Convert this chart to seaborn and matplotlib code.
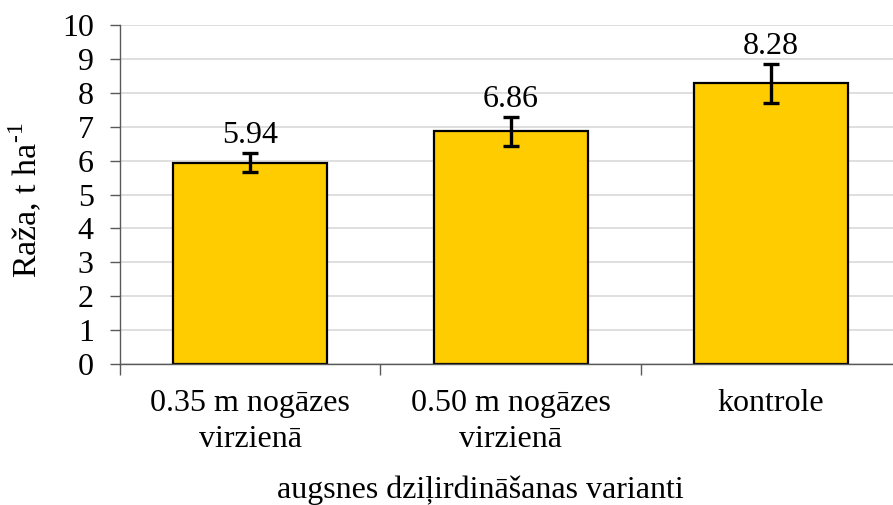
"""
Raža pēc augsnes dziļirdināšanas variantiem: stabiņi ar kļūdu joslām.
"""

import matplotlib
matplotlib.use("Agg")
import matplotlib.pyplot as plt
import pandas as pd
import seaborn as sns

# dati nolasīti no attēla
varianti = ["0.35 m nogāzes\nvirzienā", "0.50 m nogāzes\nvirzienā", "kontrole"]
raza = [5.94, 6.86, 8.28]
kludas = [0.28, 0.44, 0.58]
y_ticks = list(range(0, 11))

sns.set_style("white")
plt.rcParams["font.family"] = ["Liberation Serif", "DejaVu Serif"]
plt.rcParams["mathtext.fontset"] = "custom"
plt.rcParams["mathtext.rm"] = "Liberation Serif"
plt.rcParams["text.color"] = "black"
plt.rcParams["xtick.labelcolor"] = "black"
plt.rcParams["ytick.labelcolor"] = "black"
plt.rcParams["axes.labelcolor"] = "black"

FS = 23

df = pd.DataFrame({"variants": varianti, "raza": raza})

fig = plt.figure(figsize=(8.93, 5.05), dpi=100)
ax = fig.add_axes([0.1344, 0.279, 0.875, 0.6715])

sns.barplot(data=df, x="variants", y="raza", color="#FFCC00", saturation=1,
            edgecolor="black", linewidth=1.6, width=0.59, ax=ax, zorder=2)
ax.errorbar(range(len(raza)), raza, yerr=kludas, fmt="none",
            ecolor="black", elinewidth=2.4, capsize=6, capthick=2.4, zorder=3)

for i, (v, e) in enumerate(zip(raza, kludas)):
    ax.annotate(f"{v:.2f}", (i, v + e), xytext=(0, 2), textcoords="offset points",
                ha="center", va="bottom", fontsize=FS)

ax.set_xlim(-0.5, 2.5)
ax.set_ylim(0, 10)
ax.set_yticks(y_ticks)
ax.yaxis.grid(True, color="#d9d9d9", linewidth=1.2, zorder=0)
ax.set_axisbelow(True)

ax.set_xticks(range(len(varianti)))
ax.set_xticklabels(varianti, fontsize=FS, linespacing=1.3)
ax.tick_params(axis="x", which="major", length=0, pad=18)
ax.set_xticks([-0.5, 0.5, 1.5, 2.5], minor=True)
ax.tick_params(axis="x", which="minor", length=8, width=1, color="#595959",
               direction="out", bottom=True)
ax.tick_params(axis="y", length=7, width=1, color="#595959", direction="out",
               left=True, labelsize=FS, pad=12)

for s in ["top", "right"]:
    ax.spines[s].set_visible(False)
for s in ["left", "bottom"]:
    ax.spines[s].set_color("#595959")
    ax.spines[s].set_linewidth(1)

ax.set_xlabel("")
ax.set_ylabel("")
# ass nosaukumi novietoti kā oriģinālā (Excel) attēlā
fig.text(0.5375, 0.03, "augsnes dziļirdināšanas varianti", fontsize=FS,
         ha="center", va="center")
fig.text(0.029, 0.604, r"Raža, t ha$^{\text{-1}}$", fontsize=24.5,
         ha="center", va="center", rotation=90)

fig.savefig("out.png", dpi=100)
